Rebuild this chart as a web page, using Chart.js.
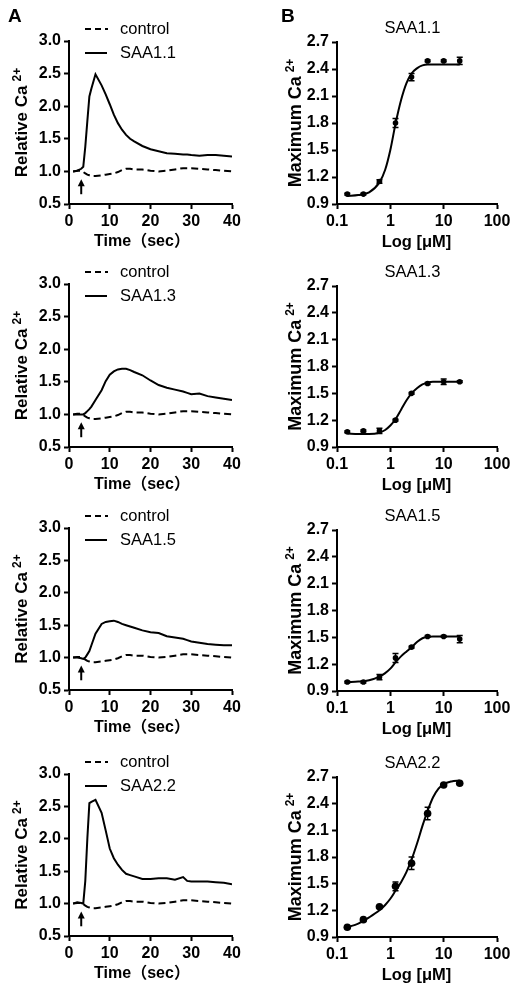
<!DOCTYPE html>
<html>
<head>
<meta charset="utf-8">
<script src="https://cdn.jsdelivr.net/npm/chart.js@4.4.1/dist/chart.umd.min.js"></script>
<style>
  html, body { margin: 0; padding: 0; background: #fff; }
  #fig { position: relative; width: 518px; height: 994px; overflow: hidden; }
  #fig canvas { position: absolute; }
</style>
</head>
<body>
<div id="fig"></div>
<script>
// ---- data ----
const seriesNames = ['SAA1.1', 'SAA1.3', 'SAA1.5', 'SAA2.2'];

// panel A: relative Ca2+ traces over time (sec)
const timeSec = [1, 2, 3, 3.5, 4, 4.5, 5, 5.5, 6.5, 8, 9, 10, 11, 12, 13, 14, 15, 16, 18, 20, 22, 24, 26, 28, 29, 30, 32, 34, 36, 38, 40];
const controlTrace = [1.00, 1.01, 1.01, 0.99, 0.97, 0.95, 0.94, 0.93, 0.93, 0.94, 0.95, 0.96, 0.97, 0.99, 1.02, 1.04, 1.04, 1.03, 1.03, 1.01, 1.00, 1.01, 1.03, 1.05, 1.05, 1.05, 1.04, 1.03, 1.02, 1.01, 1.00];
const saa11Trace = [1.00, 1.01, 1.04, 1.07, 1.38, 1.77, 2.15, 2.27, 2.49, 2.32, 2.18, 2.03, 1.87, 1.74, 1.64, 1.56, 1.50, 1.46, 1.39, 1.34, 1.31, 1.28, 1.27, 1.26, 1.26, 1.25, 1.24, 1.25, 1.25, 1.24, 1.23];
const saa13Trace = [1.00, 1.00, 1.00, 1.00, 1.02, 1.05, 1.08, 1.12, 1.22, 1.37, 1.51, 1.61, 1.66, 1.69, 1.70, 1.70, 1.68, 1.65, 1.60, 1.52, 1.45, 1.41, 1.38, 1.35, 1.33, 1.31, 1.32, 1.28, 1.26, 1.24, 1.22];
const saa15Trace = [1.00, 1.00, 0.99, 0.98, 1.00, 1.05, 1.10, 1.19, 1.37, 1.52, 1.55, 1.56, 1.57, 1.55, 1.52, 1.50, 1.48, 1.46, 1.42, 1.39, 1.38, 1.33, 1.31, 1.29, 1.27, 1.25, 1.23, 1.21, 1.20, 1.19, 1.19];
const saa22Trace = [1.00, 1.02, 1.01, 1.00, 1.35, 2.00, 2.55, 2.57, 2.60, 2.40, 2.13, 1.85, 1.70, 1.60, 1.52, 1.46, 1.44, 1.42, 1.38, 1.38, 1.39, 1.39, 1.37, 1.41, 1.35, 1.34, 1.34, 1.34, 1.33, 1.32, 1.30];
const timeTicks = [0, 10, 20, 30, 40];
const relTicks = [0.5, 1.0, 1.5, 2.0, 2.5, 3.0];
const arrowTime = 3;
const arrowFrom = 0.65, arrowTo = 0.88;

// panel B: maximum Ca2+ vs concentration (uM)
const concUM = [0.156, 0.3125, 0.625, 1.25, 2.5, 5, 10, 20];
const saa11Max = [1.01, 1.01, 1.15, 1.80, 2.31, 2.49, 2.49, 2.49];
const saa11Err = [0.01, 0.01, 0.02, 0.05, 0.04, 0.01, 0.01, 0.04];
const saa13Max = [1.07, 1.08, 1.08, 1.20, 1.50, 1.61, 1.63, 1.63];
const saa13Err = [0.01, 0.01, 0.03, 0.01, 0.01, 0.01, 0.03, 0.01];
const saa15Max = [1.00, 1.00, 1.055, 1.27, 1.39, 1.51, 1.51, 1.48];
const saa15Err = [0.01, 0.01, 0.03, 0.05, 0.01, 0.01, 0.01, 0.04];
const saa22Max = [1.01, 1.095, 1.24, 1.47, 1.73, 2.29, 2.61, 2.63];
const saa22Err = [0.01, 0.01, 0.01, 0.05, 0.07, 0.07, 0.01, 0.01];

// fitted curves, read at these concentrations
const fitConc = [0.156, 0.25, 0.4, 0.625, 0.8, 1.0, 1.25, 1.6, 2.0, 2.5, 3.2, 4.0, 5.0, 6.3, 8.0, 10, 14, 20];
const saa11Fit = [0.99, 1.00, 1.03, 1.14, 1.28, 1.50, 1.79, 2.06, 2.24, 2.35, 2.41, 2.44, 2.45, 2.45, 2.45, 2.45, 2.45, 2.45];
const saa13Fit = [1.05, 1.045, 1.045, 1.06, 1.09, 1.14, 1.21, 1.32, 1.42, 1.50, 1.56, 1.60, 1.62, 1.63, 1.63, 1.63, 1.63, 1.63];
const saa15Fit = [1.00, 1.005, 1.02, 1.06, 1.10, 1.15, 1.22, 1.29, 1.34, 1.39, 1.45, 1.49, 1.505, 1.51, 1.51, 1.51, 1.51, 1.51];
const saa22Fit = [1.01, 1.05, 1.12, 1.20, 1.26, 1.33, 1.42, 1.52, 1.63, 1.77, 1.96, 2.15, 2.32, 2.47, 2.57, 2.62, 2.65, 2.66];
const concTicks = [0.1, 1, 10, 100];
const maxTicks = [0.9, 1.2, 1.5, 1.8, 2.1, 2.4, 2.7];

// ---- layout ----
const FONT = '"Liberation Sans", Arial, "Noto Sans CJK SC", sans-serif';
const rowTop = [0, 243, 487, 732];
const rowH = [270, 270, 270, 262];
const plotTopA = [41, 284, 528, 774], plotBotA = [204, 447, 690, 936];
const plotTopB = [42, 286, 530, 777], plotBotB = [204, 447, 691, 937];

Chart.defaults.font.family = FONT;
Chart.defaults.color = '#000';

const fig = document.getElementById('fig');

function pairs(xs, ys) {
    return xs.map((x, i) => ({ x: x, y: ys[i] }));
}

function axis(tickList, fmt, extra) {
    return Object.assign({
        grid: { drawOnChartArea: false, drawTicks: true, tickLength: 5, tickWidth: 2, tickColor: '#000', color: '#000' },
        border: { display: true, color: '#000', width: 2 },
        ticks: { font: { size: 16, weight: 'bold' }, color: '#000', padding: 3, autoSkip: false, maxRotation: 0, callback: fmt },
        afterBuildTicks: s => { s.ticks = tickList.map(v => ({ value: v })); }
    }, extra);
}

function drawYTitle(ctx, x, yMid, main, size) {
    ctx.save();
    ctx.translate(x, yMid);
    ctx.rotate(-Math.PI / 2);
    ctx.font = 'bold ' + size + 'px ' + FONT;
    const wMain = ctx.measureText(main).width;
    ctx.font = 'bold 12px ' + FONT;
    const wSup = ctx.measureText('2+').width;
    const start = -(wMain + 4 + wSup) / 2;
    ctx.textAlign = 'left';
    ctx.textBaseline = 'middle';
    ctx.font = 'bold ' + size + 'px ' + FONT;
    ctx.fillText(main, start, 0);
    ctx.font = 'bold 12px ' + FONT;
    ctx.fillText('2+', start + wMain + 4, -5);
    ctx.restore();
}

// text, legend, arrow and error bars
const decor = {
    id: 'decor',
    afterDatasetsDraw(chart, args, o) {
        const ctx = chart.ctx, xs = chart.scales.x, ys = chart.scales.y;
        ctx.save();
        ctx.strokeStyle = '#000';
        ctx.fillStyle = '#000';
        if (o.errors) {
            ctx.lineWidth = 1.5;
            o.errors.x.forEach((c, i) => {
                const px = xs.getPixelForValue(c);
                const y1 = ys.getPixelForValue(o.errors.y[i] + o.errors.e[i]);
                const y2 = ys.getPixelForValue(o.errors.y[i] - o.errors.e[i]);
                ctx.beginPath();
                ctx.moveTo(px, y1); ctx.lineTo(px, y2);
                ctx.moveTo(px - 3, y1); ctx.lineTo(px + 3, y1);
                ctx.moveTo(px - 3, y2); ctx.lineTo(px + 3, y2);
                ctx.stroke();
            });
        }
        if (o.arrow) {
            const ax = xs.getPixelForValue(arrowTime);
            const yTail = ys.getPixelForValue(arrowFrom);
            const yTip = ys.getPixelForValue(arrowTo);
            ctx.lineWidth = 2;
            ctx.beginPath();
            ctx.moveTo(ax, yTail); ctx.lineTo(ax, yTip + 5);
            ctx.stroke();
            ctx.beginPath();
            ctx.moveTo(ax, yTip); ctx.lineTo(ax - 3.5, yTip + 7); ctx.lineTo(ax + 3.5, yTip + 7);
            ctx.closePath();
            ctx.fill();
        }
        ctx.restore();
    },
    afterDraw(chart, args, o) {
        const ctx = chart.ctx, area = chart.chartArea;
        ctx.save();
        ctx.fillStyle = '#000';
        ctx.strokeStyle = '#000';
        ctx.textBaseline = 'middle';
        if (o.letter) {
            ctx.font = 'bold 19px ' + FONT;
            ctx.textAlign = 'left';
            ctx.fillText(o.letter, o.letterX, 17);
        }
        if (o.title) {
            ctx.font = '16.5px ' + FONT;
            ctx.textAlign = 'center';
            ctx.fillText(o.title, o.titleX, area.top - 14);
        }
        if (o.legend) {
            ctx.lineWidth = 2;
            ctx.setLineDash([6, 4]);
            ctx.beginPath();
            ctx.moveTo(85, area.top - 12); ctx.lineTo(108, area.top - 12);
            ctx.stroke();
            ctx.setLineDash([]);
            ctx.beginPath();
            ctx.moveTo(85, area.top + 12); ctx.lineTo(107, area.top + 12);
            ctx.stroke();
            ctx.font = '16.5px ' + FONT;
            ctx.textAlign = 'left';
            ctx.fillText('control', 120, area.top - 12);
            ctx.fillText(o.legend, 120, area.top + 12);
        }
        drawYTitle(ctx, o.yTitleX, (area.top + area.bottom) / 2, o.yTitle, o.yTitleSize);
        ctx.font = 'bold ' + o.xTitleSize + 'px ' + FONT;
        ctx.textAlign = 'center';
        ctx.fillText(o.xTitle, o.xTitleX, area.bottom + 38);
        ctx.restore();
    }
};

function makeCanvas(left, top, w, h) {
    const cv = document.createElement('canvas');
    cv.width = w;
    cv.height = h;
    cv.style.left = left + 'px';
    cv.style.top = top + 'px';
    cv.style.width = w + 'px';
    cv.style.height = h + 'px';
    fig.appendChild(cv);
    return cv.getContext('2d');
}

function tracePanel(row, values) {
    const top = rowTop[row], h = rowH[row];
    const ctx = makeCanvas(0, top, 259, h);
    new Chart(ctx, {
        type: 'scatter',
        data: {
            datasets: [
                { data: pairs(timeSec, values), showLine: true, borderColor: '#000', borderWidth: 2, pointRadius: 0, tension: 0 },
                { data: pairs(timeSec, controlTrace), showLine: true, borderColor: '#000', borderWidth: 2, borderDash: [7, 4], pointRadius: 0, tension: 0 }
            ]
        },
        options: {
            responsive: false,
            animation: false,
            events: [],
            layout: { padding: { top: plotTopA[row] - top, right: 27, left: 0, bottom: 0 } },
            plugins: {
                legend: { display: false },
                tooltip: { enabled: false },
                decor: {
                    letter: row === 0 ? 'A' : null, letterX: 8,
                    legend: seriesNames[row],
                    arrow: true,
                    yTitle: 'Relative Ca', yTitleX: 22.5, yTitleSize: 17,
                    xTitle: 'Time（sec）', xTitleX: 142, xTitleSize: 16
                }
            },
            scales: {
                x: axis(timeTicks, v => String(v), {
                    type: 'linear', min: 0, max: 40,
                    afterFit: s => { s.height = top + h - plotBotA[row]; }
                }),
                y: axis(relTicks, v => v.toFixed(1), {
                    type: 'linear', min: 0.5, max: 3.0,
                    afterFit: s => { s.width = 69; }
                })
            }
        },
        plugins: [decor]
    });
}

function dosePanel(row, maxVals, errVals, fitVals, dotRadius) {
    const top = rowTop[row], h = rowH[row];
    const ctx = makeCanvas(259, top, 259, h);
    new Chart(ctx, {
        type: 'scatter',
        data: {
            datasets: [
                { data: pairs(concUM, maxVals), showLine: false, pointRadius: dotRadius, pointBackgroundColor: '#000', pointBorderColor: '#000', pointBorderWidth: 0 },
                { data: pairs(fitConc, fitVals), showLine: true, borderColor: '#000', borderWidth: 2, pointRadius: 0, cubicInterpolationMode: 'monotone' }
            ]
        },
        options: {
            responsive: false,
            animation: false,
            events: [],
            layout: { padding: { top: plotTopB[row] - top, right: 21, left: 0, bottom: 0 } },
            plugins: {
                legend: { display: false },
                tooltip: { enabled: false },
                decor: {
                    letter: row === 0 ? 'B' : null, letterX: 22,
                    title: seriesNames[row], titleX: 153.5,
                    errors: { x: concUM, y: maxVals, e: errVals },
                    yTitle: 'Maximum Ca', yTitleX: 37, yTitleSize: 18,
                    xTitle: 'Log [μM]', xTitleX: 157.5, xTitleSize: 16.5
                }
            },
            scales: {
                x: axis(concTicks, v => String(v), {
                    type: 'logarithmic', min: 0.1, max: 100,
                    afterFit: s => { s.height = top + h - plotBotB[row]; }
                }),
                y: axis(maxTicks, v => v.toFixed(1), {
                    type: 'linear', min: 0.9, max: 2.7,
                    afterFit: s => { s.width = 78; }
                })
            }
        },
        plugins: [decor]
    });
}

tracePanel(0, saa11Trace);
tracePanel(1, saa13Trace);
tracePanel(2, saa15Trace);
tracePanel(3, saa22Trace);

dosePanel(0, saa11Max, saa11Err, saa11Fit, 2.8);
dosePanel(1, saa13Max, saa13Err, saa13Fit, 2.8);
dosePanel(2, saa15Max, saa15Err, saa15Fit, 2.8);
dosePanel(3, saa22Max, saa22Err, saa22Fit, 3.8);
</script>
</body>
</html>
